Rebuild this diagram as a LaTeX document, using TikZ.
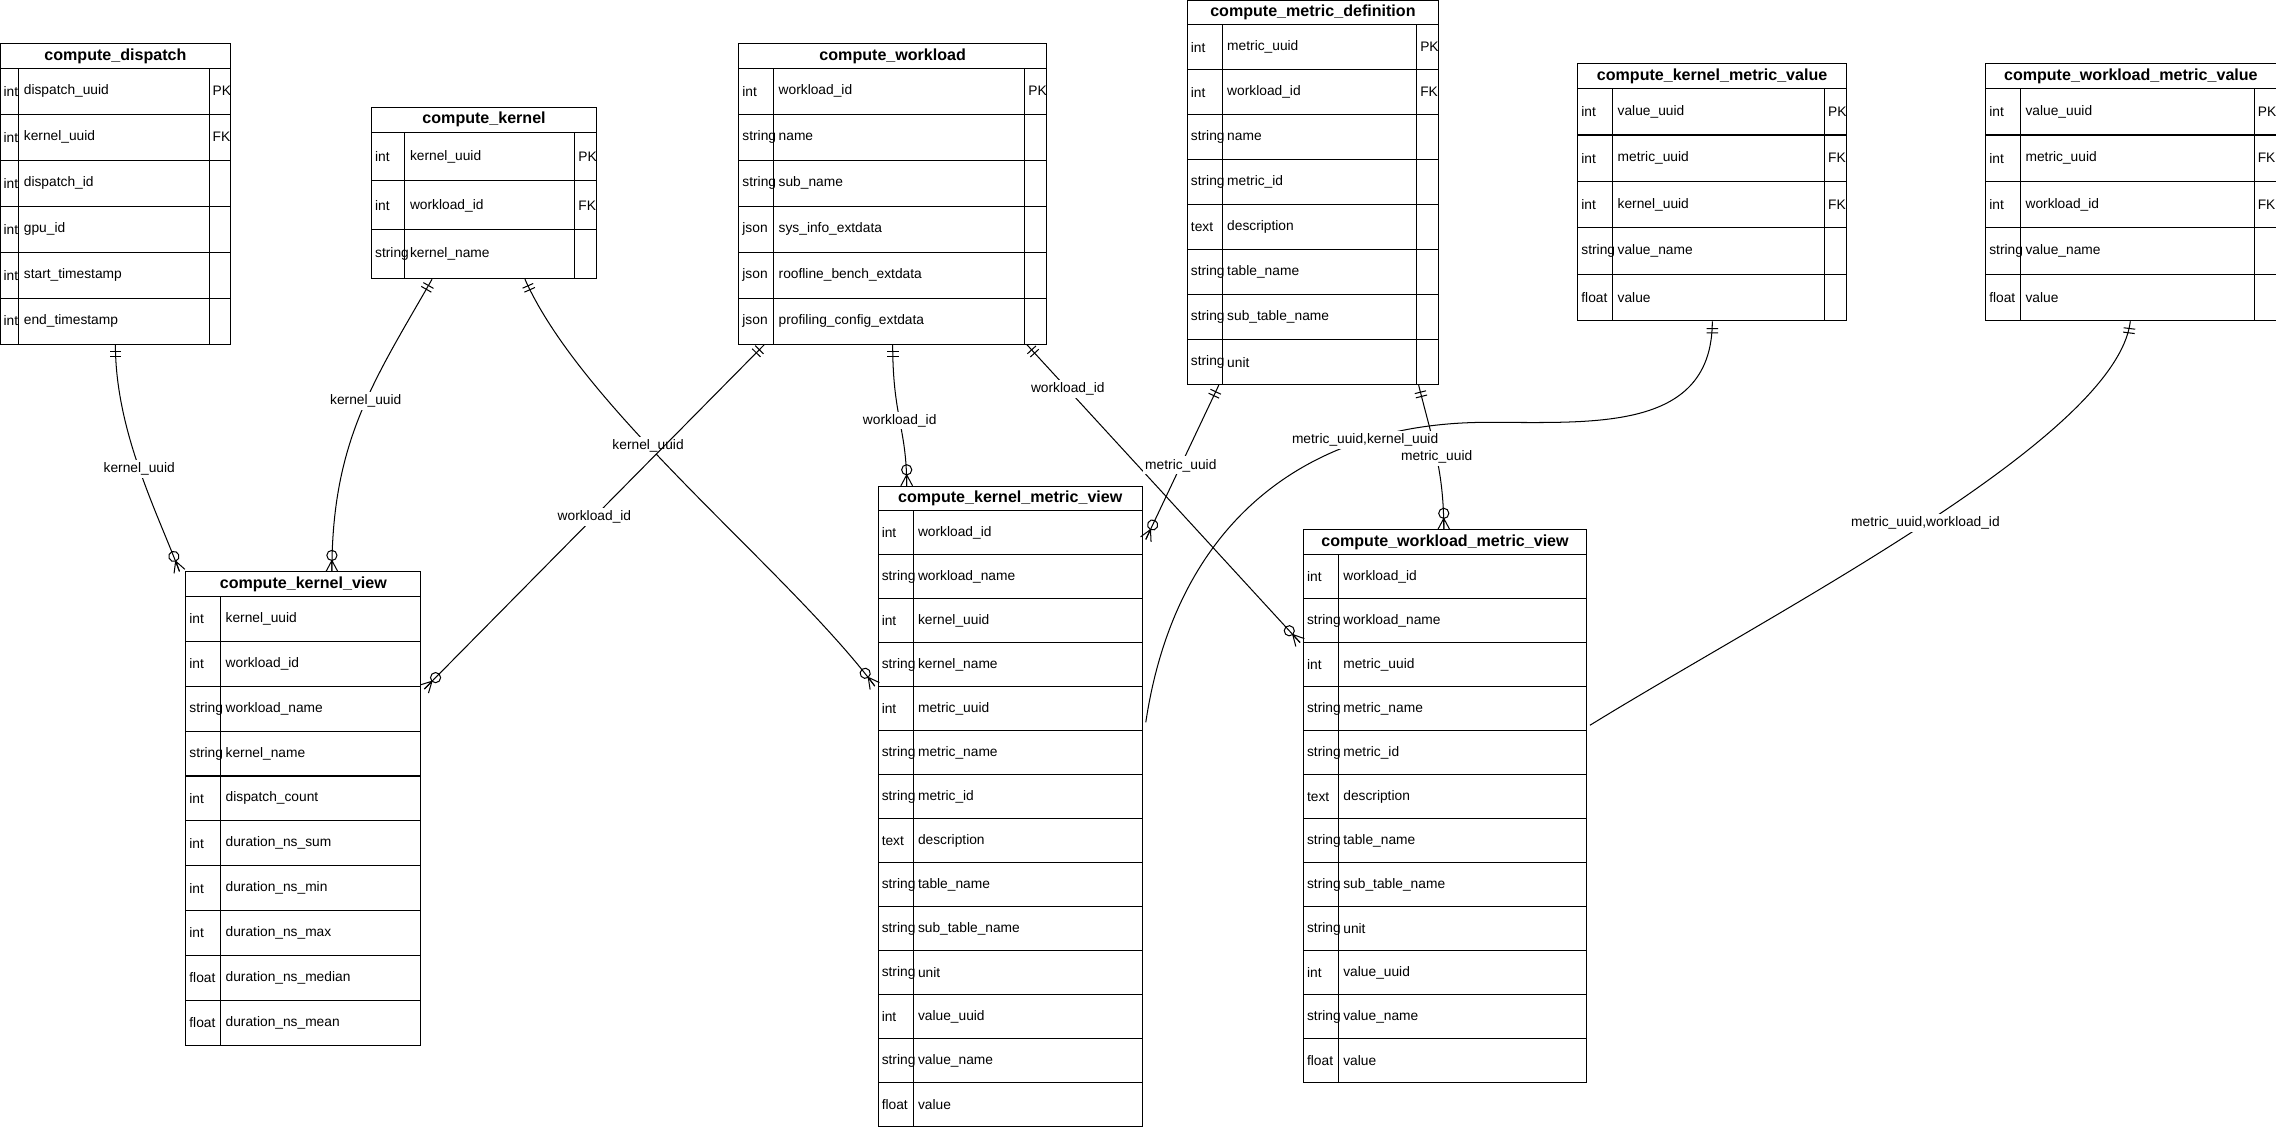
\documentclass[tikz,border=0pt]{standalone}
\usepackage{fontspec}
\setmainfont{Liberation Sans}
\usetikzlibrary{calc, fit, decorations.markings}

% table: name, x1, x2, ytop, ybottom, nrows, type col, key col, rows
\newcommand\ertable[9]{%
  \node[fit={(#2,#4)(#3,#5)}, inner sep=0pt, draw, thin] (#1) {};
  \node[title] at ({(#2+#3)/2},#4+8.5) {\detokenize{#1}};
  \draw[thin] (#2,#4+17) -- (#3,#4+17);
  \draw[thin] (#7,#4+17) -- (#7,#5);
  \ifx\relax#8\relax\else\draw[thin] (#8,#4+17) -- (#8,#5);\fi
  \pgfmathsetmacro\rowh{(#5-#4-17)/#6}
  \foreach \typ/\fld/\key [count=\i] in {#9} {
    \pgfmathsetmacro\ytop{#4+17+(\i-1)*\rowh}
    \ifnum\i>1 \draw[thin] (#2,\ytop) -- (#3,\ytop);\fi
    \node[cell] at (#2,\ytop+\rowh/2) {\typ};
    \node[cell] at (#7+1,\ytop+\rowh/2) {\fld};
    \ifx\relax#8\relax\else\node[cell] at (#8,\ytop+\rowh/2) {\key};\fi
  }%
}

\begin{document}
\begin{tikzpicture}[
    x=0.02cm, y=-0.02cm,
    title/.style={font=\fontsize{6.3}{7}\selectfont\bfseries},
    cell/.style={font=\fontsize{5.4}{6}\selectfont, anchor=west, inner sep=1.2pt},
    lbl/.style={font=\fontsize{5.4}{6}\selectfont, fill=white, inner sep=1pt},
    rel/.style={thin, postaction={decorate, decoration={markings,
        mark=at position 0 with {\draw (5,-4) -- (5,4) (8,-4) -- (8,4);},
        mark=at position 1 with {\draw (-11,0) circle (3.5);
          \draw (-7.5,0) -- (0,-4) (-7.5,0) -- (0,0) (-7.5,0) -- (0,4);}}}}
]
  \useasboundingbox (0,0) rectangle (1568,777);

  % Source tables
  \ertable{compute_dispatch}{0}{159}{30}{237}{6}{13}{144}{
    int/dispatch\_uuid/PK, int/kernel\_uuid/FK, int/dispatch\_id/,
    int/gpu\_id/, int/start\_timestamp/, int/end\_timestamp/}
  \ertable{compute_kernel}{256}{411}{74}{192}{3}{279}{396}{
    int/kernel\_uuid/PK, int/workload\_id/FK, string/kernel\_name/}
  \ertable{compute_workload}{509}{721}{30}{237}{6}{533}{706}{
    int/workload\_id/PK, string/name/, string/sub\_name/,
    json/sys\_info\_extdata/, json/roofline\_bench\_extdata/,
    json/profiling\_config\_extdata/}
  \ertable{compute_metric_definition}{818}{991}{0}{265}{8}{842}{976}{
    int/metric\_uuid/PK, int/workload\_id/FK, string/name/,
    string/metric\_id/, text/description/, string/table\_name/,
    string/sub\_table\_name/, string/unit/}
  \ertable{compute_kernel_metric_value}{1087}{1272}{44}{221}{5}{1111}{1257}{
    int/value\_uuid/PK, int/metric\_uuid/FK, int/kernel\_uuid/FK,
    string/value\_name/, float/value/}
  \ertable{compute_workload_metric_value}{1368}{1568}{44}{221}{5}{1392}{1553}{
    int/value\_uuid/PK, int/metric\_uuid/FK, int/workload\_id/FK,
    string/value\_name/, float/value/}

  % Views
  \ertable{compute_kernel_view}{128}{290}{394}{720}{10}{152}{}{
    int/kernel\_uuid/, int/workload\_id/, string/workload\_name/,
    string/kernel\_name/, int/dispatch\_count/, int/duration\_ns\_sum/,
    int/duration\_ns\_min/, int/duration\_ns\_max/,
    float/duration\_ns\_median/, float/duration\_ns\_mean/}
  \ertable{compute_kernel_metric_view}{605}{787}{335}{776}{14}{629}{}{
    int/workload\_id/, string/workload\_name/, int/kernel\_uuid/,
    string/kernel\_name/, int/metric\_uuid/, string/metric\_name/,
    string/metric\_id/, text/description/, string/table\_name/,
    string/sub\_table\_name/, string/unit/, int/value\_uuid/,
    string/value\_name/, float/value/}
  \ertable{compute_workload_metric_view}{898}{1093}{365}{746}{12}{922}{}{
    int/workload\_id/, string/workload\_name/, int/metric\_uuid/,
    string/metric\_name/, string/metric\_id/, text/description/,
    string/table\_name/, string/sub\_table\_name/, string/unit/,
    int/value\_uuid/, string/value\_name/, float/value/}

  % Relations
  \draw[rel] (compute_dispatch.south) .. controls +(0,60) and +(-15,-40) ..
    node[lbl, pos=0.5] {kernel\_uuid} ($(compute_kernel_view.north west)+(-4,0)$);
  \draw[rel] ($(compute_kernel.south west)+(42,0)$) .. controls +(-40,70) and +(0,-90) ..
    node[lbl, pos=0.45] {kernel\_uuid} ($(compute_kernel_view.north west)+(101,0)$);
  \draw[rel] ($(compute_kernel.south west)+(106,0)$) .. controls +(40,90) and +(-60,-80) ..
    node[lbl, pos=0.4] {kernel\_uuid} ($(compute_kernel_metric_view.north west)+(-2,138)$);
  \draw[rel] ($(compute_workload.south west)+(18,0)$) --
    node[lbl, pos=0.5] {workload\_id} ($(compute_kernel_view.north east)+(2,81)$);
  \draw[rel] (compute_workload.south) .. controls +(0,50) and +(0,-40) ..
    node[lbl, pos=0.5] {workload\_id} ($(compute_kernel_metric_view.north west)+(20,0)$);
  \draw[rel] ($(compute_workload.south east)+(-14,0)$) --
    node[lbl, pos=0.15] {workload\_id} ($(compute_workload_metric_view.north west)+(-2,78)$);
  \draw[rel] ($(compute_metric_definition.south west)+(22,0)$) --
    node[lbl, pos=0.52] {metric\_uuid} ($(compute_kernel_metric_view.north east)+(2,37)$);
  \draw[rel] ($(compute_metric_definition.south east)+(-14,0)$) .. controls +(10,40) and +(0,-40) ..
    node[lbl, pos=0.5] {metric\_uuid} ($(compute_workload_metric_view.north west)+(97,0)$);
  \draw[rel] ($(compute_kernel_metric_value.south west)+(93,0)$)
    .. controls +(0,75) and +(70,0) .. (1030,291)
    .. controls (900,289) and (810,360) ..
    node[lbl, pos=0.25] {metric\_uuid,kernel\_uuid} ($(compute_kernel_metric_view.north east)+(2,163)$);
  \draw[rel] ($(compute_workload_metric_value.south west)+(100,0)$) .. controls +(-10,80) and +(130,-80) ..
    node[lbl, pos=0.5] {metric\_uuid,workload\_id} ($(compute_workload_metric_view.north east)+(2,135)$);
\end{tikzpicture}
\end{document}
